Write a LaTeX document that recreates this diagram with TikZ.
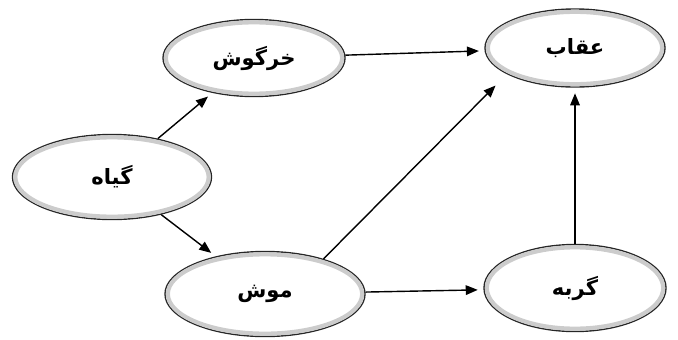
\documentclass[tikz,border=0pt]{standalone}
\usepackage{fontspec}
\newfontfamily\farsi[Script=Arabic]{DejaVu Sans}
\TeXXeTstate=1
\usetikzlibrary{shapes.geometric,arrows.meta,calc}

\begin{document}
\begin{tikzpicture}[
   every node/.style={ellipse, draw=black!85, line width=1pt, inner sep=0pt,
      font=\farsi\bfseries\fontsize{15}{18}\selectfont},
   ring/.style={gray!40, line width=3pt},
   link/.style={-{Triangle[length=3mm,width=2.4mm]}, line width=1pt,
      shorten >=4pt}]

\useasboundingbox (0,0) rectangle (16.95,8.475);

\node[minimum width=4.975cm, minimum height=2.125cm] (giyah) at (2.8,4.05) {\beginR گیاه\endR};
\node[minimum width=4.55cm, minimum height=1.925cm] (khargoosh) at (6.35,7.025) {\beginR خرگوش\endR};
\node[minimum width=4.5cm, minimum height=1.95cm] (oghab) at (14.375,7.275) {\beginR عقاب\endR};
\node[minimum width=5cm, minimum height=2.125cm] (moosh) at (6.625,1.125) {\beginR موش\endR};
\node[minimum width=4.55cm, minimum height=2.175cm] (gorbeh) at (14.375,1.275) {\beginR گربه\endR};

% inner grey band of each ellipse
\foreach \nd in {giyah,khargoosh,oghab,moosh,gorbeh}
   \draw[ring] let \p1=(\nd.east), \p2=(\nd.north), \p3=(\nd.center)
      in (\p3) ellipse [x radius=\x1-\x3-2.5pt, y radius=\y2-\y3-2.5pt];

\draw[link] (giyah) -- (khargoosh);
\draw[link] (giyah) -- (moosh);
\draw[link] (khargoosh) -- (oghab);
\draw[link, shorten >=0.4cm] (moosh.31) -- (oghab.201);
\draw[link] (moosh) -- (gorbeh);
\draw[link] (gorbeh) -- (oghab);

\end{tikzpicture}
\end{document}
